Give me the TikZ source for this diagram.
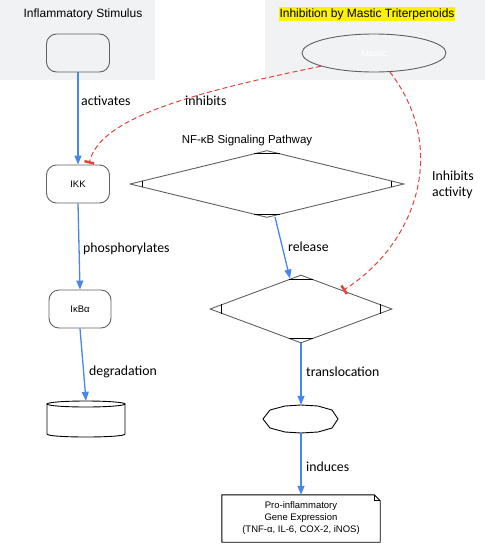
\documentclass[tikz,border=0pt]{standalone}
\usepackage{fontspec}
\setmainfont{Liberation Sans}
\newfontfamily\lblfont{Carlito}
\usetikzlibrary{shapes.geometric,arrows.meta,calc}
\definecolor{clus}{HTML}{F1F2F4}
\definecolor{edgeblue}{HTML}{4A86E8}
\definecolor{inhred}{HTML}{E0443C}
\definecolor{stroke}{HTML}{606060}
\begin{document}
\begin{tikzpicture}[x=1pt,y=-1pt,
  every node/.style={inner sep=0pt},
  cluster/.style={fill=clus,draw=none},
  ctitle/.style={font=\fontsize{12}{14}\selectfont},
  rbox/.style={draw=stroke,line width=0.9pt,rounded corners=10pt,minimum width=63pt,minimum height=38pt,font=\fontsize{9.5}{10}\selectfont},
  dia/.style={diamond,draw=stroke,line width=0.9pt},
  flow/.style={draw=edgeblue,line width=1.3pt,-{Triangle[length=9pt,width=7pt]}},
  inh/.style={draw=inhred,line width=1pt,dash pattern=on 5pt off 3pt,-{Bar[width=10pt,line width=2.5pt]}},
  lbl/.style={font=\lblfont\fontsize{13.8}{16}\selectfont,anchor=west}]
\useasboundingbox (0,0) rectangle (485,544);
% clusters
\node[cluster,minimum width=155pt,minimum height=80pt] (c1) at (77.5,40) {};
\node[cluster,minimum width=220pt,minimum height=80pt] (c2) at (375,40) {};
\node[ctitle] (t1) at (83,14) {Inflammatory Stimulus};
\node[ctitle,fill=yellow,inner sep=1pt] (t2) at (367,14) {Inhibition by Mastic Triterpenoids};
% nodes
\node[rbox] (stim) at (78,53) {};
\node[rbox] (ikk) at (78,184) {IKK};
\node[rbox,minimum width=62pt] (ikba) at (80,309) {IκBα};
\node[ellipse,draw=stroke,line width=0.9pt,fill=clus,minimum width=144pt,minimum height=38pt,text=white,font=\fontsize{9}{10}\selectfont] (mastic) at (374,53) {Mastic};
\node[font=\fontsize{11.5}{13}\selectfont] (nflbl) at (247,141) {NF-κB Signaling Pathway};
\node[dia,minimum width=274pt,minimum height=67pt] (d1) at (267,184) {};
\node[dia,minimum width=182pt,minimum height=68pt] (d2) at (301,309) {};
\foreach \d in {d1,d2}{
  \draw[stroke,line width=0.9pt] ($(\d.west)!13pt!(\d.north)$) -- ($(\d.west)!13pt!(\d.south)$);
  \draw[stroke,line width=0.9pt] ($(\d.east)!13pt!(\d.north)$) -- ($(\d.east)!13pt!(\d.south)$);
  \draw[stroke,line width=0.9pt] ($(\d.north)!13pt!(\d.west)$) -- ($(\d.north)!13pt!(\d.east)$);
  \draw[stroke,line width=0.9pt] ($(\d.south)!13pt!(\d.west)$) -- ($(\d.south)!13pt!(\d.east)$);
}
% cylinder
\node[minimum width=78pt,minimum height=36pt] (cyl) at (86,419) {};
\begin{scope}[shift={(cyl.center)}]
  \draw[stroke,line width=0.9pt] (-39,-15) -- (-39,15) .. controls (-39,19) and (39,19) .. (39,15) -- (39,-15);
  \draw[stroke,line width=0.9pt] (0,-15) ellipse [x radius=39, y radius=3];
\end{scope}
% blob
\node[minimum width=75pt,minimum height=28pt] (blob) at (301,419) {};
\begin{scope}[shift={(blob.center)}]
  \draw[stroke,line width=0.9pt] (-38,0) -- (-31,-9) -- (-16,-13) -- (0,-14) -- (17,-13) -- (31,-9) -- (37,0) -- (31,9) -- (17,13) -- (0,14) -- (-16,13) -- (-31,9) -- cycle;
\end{scope}
% note
\node[minimum width=158pt,minimum height=47pt,align=center,font=\fontsize{9.5}{12}\selectfont] (gene) at (301,518.5) {Pro-inflammatory\\Gene Expression\\(TNF-α, IL-6, COX-2, iNOS)};
\draw[stroke,line width=0.9pt] (gene.north west) -- ($(gene.north east)+(-6,0)$) -- ($(gene.north east)+(0,6)$) -- (gene.south east) -- (gene.south west) -- cycle;
\draw[stroke,line width=0.9pt] ($(gene.north east)+(-6,0)$) -- ($(gene.north east)+(-6,6)$) -- ($(gene.north east)+(0,6)$);
% edges
\draw[flow] (stim) -- (ikk);
\draw[flow] (ikk.south) -- (ikba.north);
\draw[flow] (ikba.south) -- (cyl.north);
\draw[flow] ($(d1.south)+(8,-1)$) -- ($(d2.north)+(-11,4)$);
\draw[flow] (d2) -- (blob);
\draw[flow] (blob) -- (gene);
\draw[inh] (mastic.194) .. controls (180,95) and (100,120) .. ($(ikk.north)+(11,-1)$);
\draw[inh] (mastic.310) .. controls (450,150) and (415,245) .. ($(d2.north)!0.46!(d2.east)$);
% labels
\node[lbl] (l1) at (81,101) {activates};
\node[lbl] (l2) at (185,101) {inhibits};
\node[lbl] (l3) at (83,249) {phosphorylates};
\node[lbl] (l4) at (89,372) {degradation};
\node[lbl] (l5) at (288,247) {release};
\node[lbl] (l6) at (306,372) {translocation};
\node[lbl] (l7) at (306,467) {induces};
\node[lbl,align=left] (l8) at (432,185) {Inhibits\\activity};
\end{tikzpicture}
\end{document}
